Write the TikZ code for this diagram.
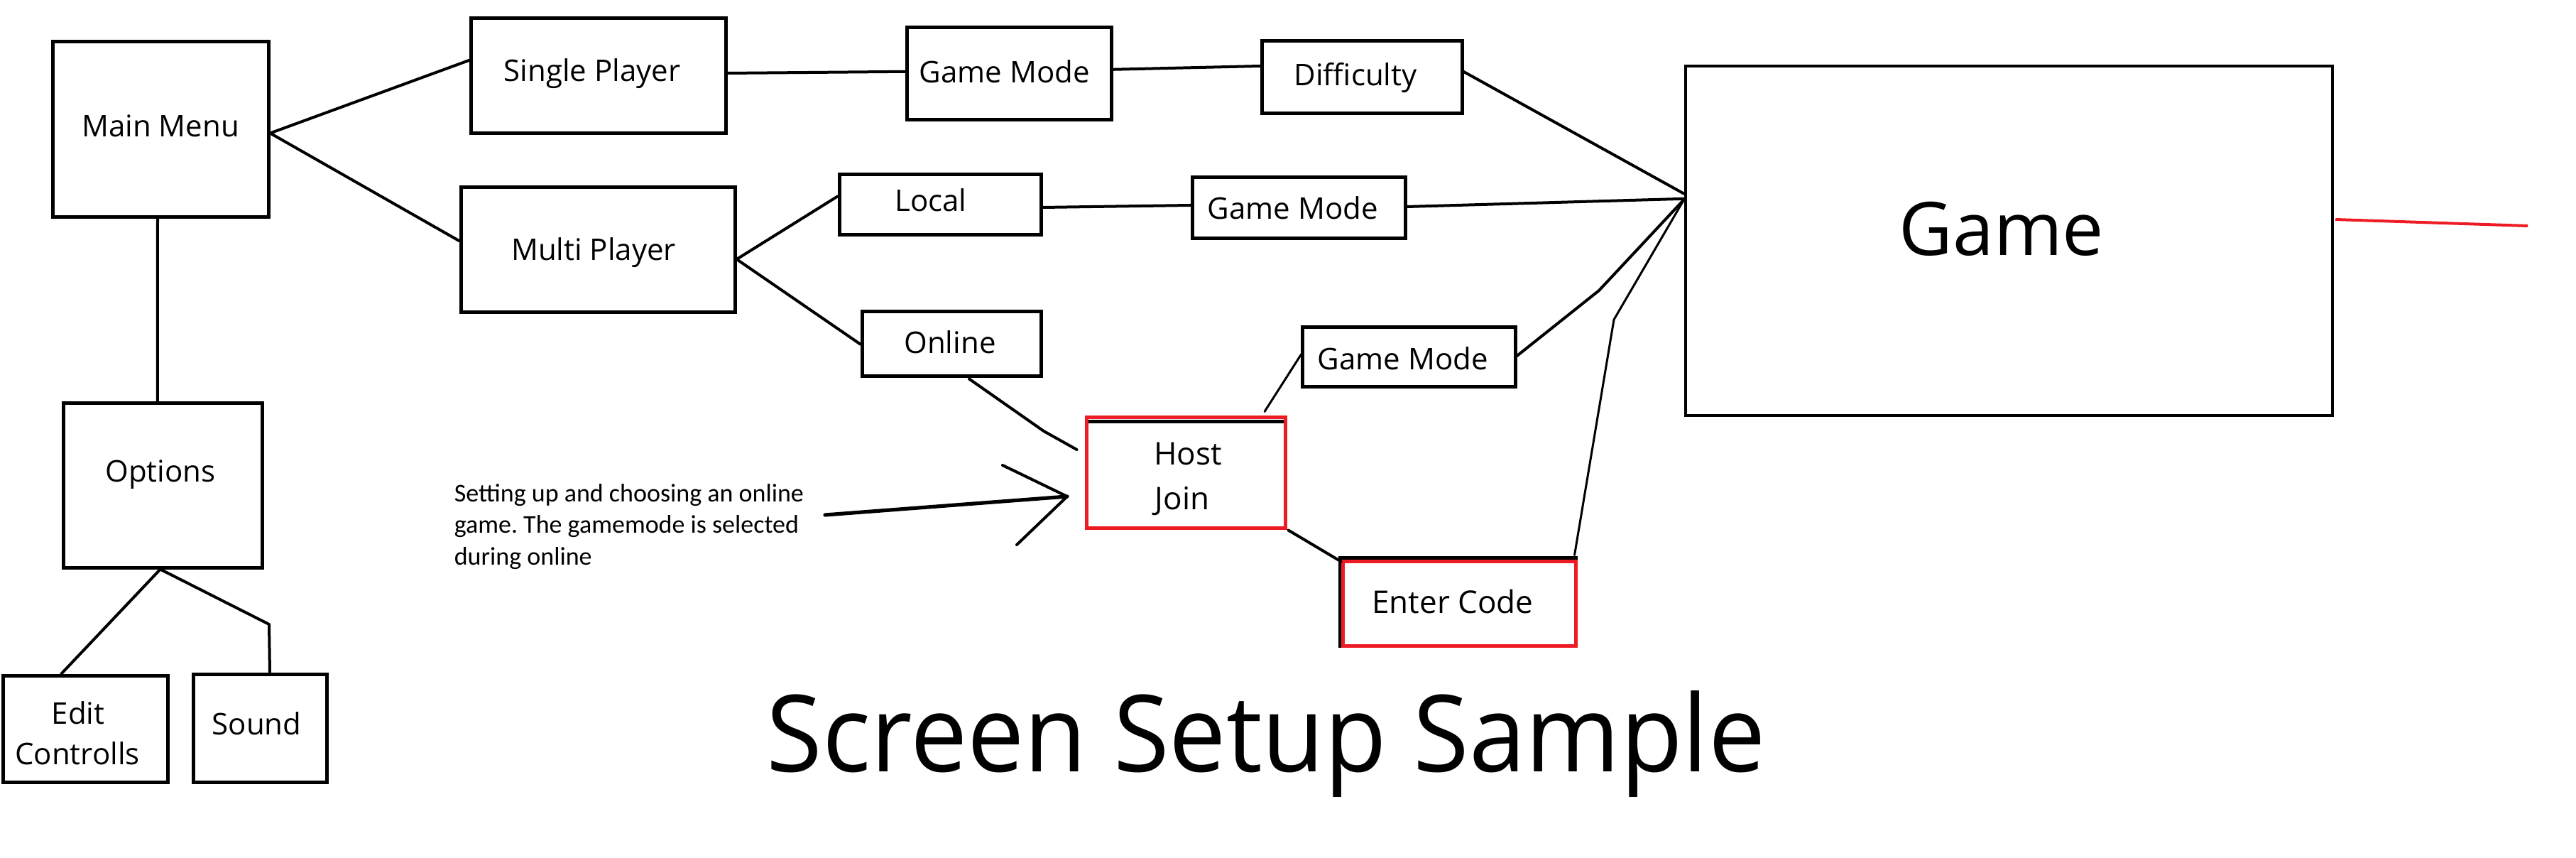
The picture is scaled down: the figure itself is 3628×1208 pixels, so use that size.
\documentclass[tikz,border=0pt]{standalone}
\usepackage{graphicx}
\usepackage{fontspec}
\setmainfont{Open Sans}
\newfontfamily\annfont{Carlito}
\usetikzlibrary{calc}
\definecolor{pred}{HTML}{ED1C24}
\frenchspacing
\begin{document}
\begin{tikzpicture}[x=0.25pt,y=-0.25pt,
  bx/.style 2 args={draw, line width=1.25pt, minimum width={#1*0.25pt}, minimum height={#2*0.25pt}, inner sep=0pt},
  rbx/.style 2 args={bx={#1}{#2}, draw=pred},
  lbl/.style={font=\fontsize{10.5pt}{12pt}\selectfont, inner sep=0pt, anchor=base},
  lblb/.style={font=\fontsize{11pt}{13pt}\selectfont, inner sep=0pt, anchor=base},
  conn/.style={line width=1pt, line join=round, line cap=round},
  thinl/.style={line width=0.75pt, line join=round, line cap=round},
  ann/.style={font=\annfont\fontsize{9pt}{11pt}\selectfont, inner sep=0pt, anchor=base west},
]
\fill[white] (0,0) rectangle (3628,1208);
\useasboundingbox (0,0) rectangle (3628,1208);

% boxes
\node[bx={304}{247}] (mm) at (226,182.5) {};
\node[lbl] (mmT) at (226,193) {Main Menu};
\node[bx={359}{162}] (sp) at (842.5,107) {};
\node[lbl] (spT) at (834,115) {Single Player};
\node[bx={386}{176}] (mp) at (842,352) {};
\node[lbl] (mpT) at (836,366.5) {Multi Player};
\node[bx={280}{232}] (opt) at (229.75,683) {};
\node[lbl] (optT) at (226,678) {Options};
\node[bx={232}{150}] (edit) at (120,1026) {};
\node[lbl] (editT1) at (110,1019) {Edit};
\node[lbl] (editT2) at (109,1076.6) {Controlls};
\node[bx={188}{152}] (snd) at (366,1025) {};
\node[lbl] (sndT) at (361.6,1034.6) {Sound};
\node[bx={288}{130}] (gm1) at (1421,103.8) {};
\node[lbl] (gm1T) at (1415,116.7) {Game Mode};
\node[bx={282}{102}] (dif) at (1918,109) {};
\node[lbl] (difT) at (1909,120.5) {Difficulty};
\node[bx={284}{85}] (loc) at (1324,288.5) {};
\node[lbl] (locT) at (1311,297.7) {Local};
\node[bx={300}{86}] (gm2) at (1829,293) {};
\node[lbl] (gm2T) at (1821,309) {Game Mode};
\node[bx={252}{91}] (onl) at (1340,484.5) {};
\node[lbl] (onlT) at (1338,498) {Online};
\node[bx={300}{84}] (gm3) at (1984,503) {};
\node[lbl] (gm3T) at (1976,521) {Game Mode};

% host / join (black edge under red)
\draw[line width=1.25pt] (1530,593) rectangle (1810,743);
\node[rbx={280}{156}] (hj) at (1670,665) {};
\node[lblb] (hjT1) at (1673,654) {Host};
\node[lblb] (hjT2) at (1665,717) {Join};

% enter code (black edge behind red)
\draw[line width=1.25pt] (1887,785) rectangle (2219,909);
\node[rbx={328}{119}] (ec) at (2055,849.5) {};
\node[lblb] (ecT) at (2046,863) {Enter Code};

% game
\node[draw, line width=1.1pt, minimum width={911*0.25pt}, minimum height={492*0.25pt}, inner sep=0pt] (game) at (2829.5,339) {};
\node[font=\fontsize{26pt}{30pt}\selectfont, inner sep=0pt, anchor=base] (gameT) at (2819,360) {Game};

% connectors
\draw[conn] ($(mm.east)+(0,5)$) -- ($(sp.west)+(0,-22)$);
\draw[conn] ($(mm.east)+(0,5)$) -- ($(mp.west)+(0,-13)$);
\draw[conn] ($(mm.south)+(-4,0)$) -- ($(opt.north)+(-8,0)$);
\coordinate (sndK) at (379,879);
\draw[conn] ($(opt.south)+(-4,0)$) -- ($(edit.north)+(-33.5,0)$);
\draw[conn] ($(opt.south)+(-4,0)$) -- (sndK) -- ($(snd.north)+(14,0)$);
\draw[conn] ($(sp.east)+(0,-4)$) -- ($(gm1.west)+(0,-3)$);
\draw[conn] ($(gm1.east)+(0,-6)$) -- ($(dif.west)+(0,-16)$);
\draw[conn] ($(dif.east)+(0,-8)$) -- ($(game.north west)+(0,182)$);
\draw[conn] ($(mp.east)+(0,13)$) -- ($(loc.west)+(0,-12)$);
\draw[conn] ($(mp.east)+(0,13)$) -- (onl.west);
\draw[conn] ($(loc.east)+(0,3.5)$) -- ($(gm2.west)+(0,-4)$);
\draw[conn] ($(gm2.east)+(0,-2)$) -- ($(game.north west)+(0,189)$);
\coordinate (onK) at (1470,607);
\draw[conn] ($(onl.south)+(25,1)$) -- (onK) -- ($(hj.west)+(-11,-32)$);
\draw[thinl] ($(hj.north)+(111,-5)$) -- ($(gm3.west)+(1,-4)$);
\coordinate (gmK) at (2252,409);
\draw[conn] ($(gm3.east)+(0,-2)$) -- (gmK) -- ($(game.north west)+(0,190)$);
\coordinate (ecK) at (2273,450);
\draw[thinl] ($(ec.north east)+(-4,-6)$) -- (ecK) -- ($(game.north west)+(0,190)$);
\draw[conn] ($(hj.south east)+(2,1)$) -- ($(ec.north west)+(0,3)$);

% red line from game
\coordinate (redEnd) at (3560,318);
\draw[line width=1pt, pred] ($(game.east)+(2,-30)$) -- (redEnd);

% annotation
\node[ann] (ann1) at (639,706) {Setting up and choosing an online};
\node[ann] (ann2) at (639,750.5) {game. The gamemode is selected};
\node[ann] (ann3) at (639,795) {during online};
\coordinate (arS) at (1162,725);
\coordinate (arT) at (1503,699);
\coordinate (arA) at (1412,655);
\coordinate (arB) at (1432,767);
\draw[line width=1.3pt, line cap=round] (arS) -- (arT);
\draw[conn] (arA) -- (arT) -- (arB);

% title
\node[anchor=base west, inner sep=0pt, font=\fontsize{37.5pt}{40pt}\selectfont] (title) at (1079,1086) {\scalebox{0.955}[1]{Screen Setup Sample}};
\end{tikzpicture}
\end{document}
